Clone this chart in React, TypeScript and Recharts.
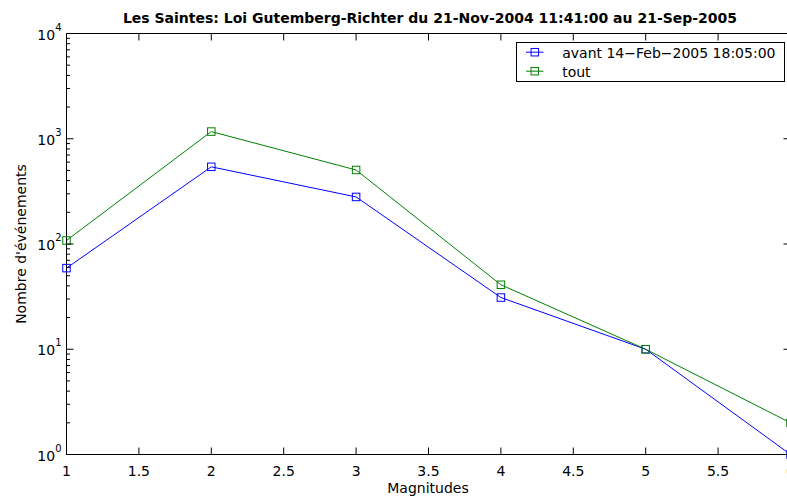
import React from 'react';
import { LineChart, Line, XAxis, YAxis, ReferenceArea, Legend } from 'recharts';

// ---- data ----
const magnitudes = [1, 2, 3, 4, 5, 6];
const avant = [59, 541, 280, 31, 10, 1];
const tout = [108, 1170, 505, 41, 10, 2];
const seriesNames = ['avant 14\u2212Feb\u22122005 18:05:00', 'tout'];
const xTicks = [1, 1.5, 2, 2.5, 3, 3.5, 4, 4.5, 5, 5.5, 6];
const yTicks = [
  1, 2, 3, 4, 5, 6, 7, 8, 9,
  10, 20, 30, 40, 50, 60, 70, 80, 90,
  100, 200, 300, 400, 500, 600, 700, 800, 900,
  1000, 2000, 3000, 4000, 5000, 6000, 7000, 8000, 9000,
  10000,
];
const titleText = 'Les Saintes: Loi Gutemberg-Richter du 21-Nov-2004 11:41:00 au 21-Sep-2005';
const xLabel = 'Magnitudes';
const yLabel = "Nombre d'événements";

const data = magnitudes.map((m, i) => ({ m, avant: avant[i], tout: tout[i] }));

// ---- layout ----
const W = 830;
const H = 498;
const PLOT_LEFT = 66.5;
const PLOT_TOP = 33.5;
const PLOT_RIGHT = 790.5;
const PLOT_BOTTOM = 454.5;
const FONT = '"DejaVu Sans", sans-serif';
const BLUE = '#0000ff';
const GREEN = '#008000';
const MAJOR = 7;
const MINOR = 3.5;

const XTick = (props: any) => {
  const { x, y, payload } = props;
  const v = payload.value;
  return (
    <g>
      <line x1={x} x2={x} y1={y} y2={y - MAJOR} stroke="#000" strokeWidth={1} />
      <line x1={x} x2={x} y1={PLOT_TOP} y2={PLOT_TOP + MAJOR} stroke="#000" strokeWidth={1} />
      <text x={x} y={y + 21} textAnchor="middle" fontFamily={FONT} fontSize={14} fill="#000">
        {String(v)}
      </text>
    </g>
  );
};

const YTick = (props: any) => {
  const { x, y, payload } = props;
  const v = payload.value;
  const lg = Math.log10(v);
  const major = Math.abs(lg - Math.round(lg)) < 1e-9;
  const len = major ? MAJOR : MINOR;
  return (
    <g>
      <line x1={x} x2={x + len} y1={y} y2={y} stroke="#000" strokeWidth={1} />
      <line x1={PLOT_RIGHT - len} x2={PLOT_RIGHT} y1={y} y2={y} stroke="#000" strokeWidth={1} />
      {major && (
        <text x={x - 5} y={y + 6} textAnchor="end" fontFamily={FONT} fontSize={14} fill="#000">
          10
          <tspan fontSize={10} dy={-9}>{String(Math.round(lg))}</tspan>
        </text>
      )}
    </g>
  );
};

const squareDot = (color: string) => (props: any) => {
  const { cx, cy, index } = props;
  const s = 7.5;
  return (
    <rect key={`d-${color}-${index}`} x={cx - s / 2} y={cy - s / 2} width={s} height={s}
      fill="none" stroke={color} strokeWidth={1} />
  );
};

const LegendBox = (props: any) => {
  const payload = props.payload || [];
  return (
    <svg width={270} height={41} style={{ display: 'block' }}>
      <rect x={0.5} y={0.5} width={268} height={39} fill="#fff" stroke="#000" strokeWidth={1} />
      {payload.map((p: any, i: number) => {
        const cy = 10.2 + i * 19;
        return (
          <g key={i}>
            <line x1={10} x2={27.5} y1={cy} y2={cy} stroke={p.color} strokeWidth={1} />
            <rect x={18.8 - 3.75} y={cy - 3.75} width={7.5} height={7.5} fill="none" stroke={p.color} strokeWidth={1} />
            <text x={46.2} y={cy + 5.6} fontFamily={FONT} fontSize={14} fill="#000">{p.value}</text>
          </g>
        );
      })}
    </svg>
  );
};

export default function App() {
  return (
    <div style={{ position: 'absolute', left: 0, top: 0, width: 787, height: 498, overflow: 'hidden', background: '#fff' }}>
      <LineChart
        width={W}
        height={H}
        data={data}
        margin={{ top: PLOT_TOP, right: W - PLOT_RIGHT, bottom: 0, left: 0 }}
      >
        <XAxis
          dataKey="m"
          type="number"
          domain={[1, 6]}
          ticks={xTicks}
          interval={0}
          height={H - PLOT_BOTTOM}
          tickSize={0}
          tickMargin={0}
          tickLine={false}
          axisLine={{ stroke: '#000', strokeWidth: 1 }}
          tick={(p: any) => <XTick {...p} />}
        />
        <YAxis
          type="number"
          scale="log"
          domain={[1, 10000]}
          ticks={yTicks}
          interval={0}
          width={PLOT_LEFT}
          tickSize={0}
          tickMargin={0}
          tickLine={false}
          axisLine={{ stroke: '#000', strokeWidth: 1 }}
          tick={(p: any) => <YTick {...p} />}
        />
        <ReferenceArea x1={1} x2={6} y1={1} y2={10000} fill="none" fillOpacity={0} stroke="#000" strokeWidth={1} ifOverflow="visible" />
        <Line
          type="linear"
          dataKey="avant"
          name={seriesNames[0]}
          stroke={BLUE}
          strokeWidth={1}
          dot={squareDot(BLUE)}
          activeDot={false}
          isAnimationActive={false}
        />
        <Line
          type="linear"
          dataKey="tout"
          name={seriesNames[1]}
          stroke={GREEN}
          strokeWidth={1}
          dot={squareDot(GREEN)}
          activeDot={false}
          isAnimationActive={false}
        />
        <Legend
          layout="vertical"
          align="center"
          verticalAlign="middle"
          content={(p: any) => <LegendBox {...p} />}
          wrapperStyle={{ left: 516, top: 42, width: 270, height: 41, margin: 0, padding: 0 }}
        />
      </LineChart>
      <svg width={787} height={498} style={{ position: 'absolute', left: 0, top: 0, pointerEvents: 'none' }}>
        <text x={430} y={22.7} textAnchor="middle" fontFamily={FONT} fontWeight="bold" fontSize={14} fill="#000">
          {titleText}
        </text>
        <text x={428} y={493} textAnchor="middle" fontFamily={FONT} fontSize={14} fill="#000">
          {xLabel}
        </text>
        <text x={26} y={244} textAnchor="middle" transform="rotate(-90 26 244)" fontFamily={FONT} fontSize={14} fill="#000">
          {yLabel}
        </text>
      </svg>
    </div>
  );
}
